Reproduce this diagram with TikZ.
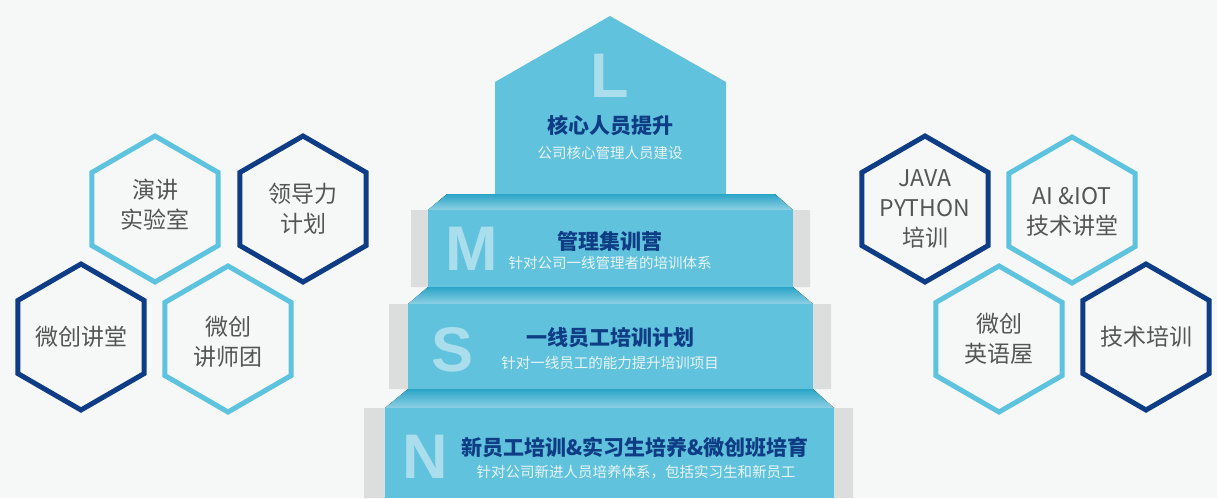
\documentclass[tikz,border=0pt]{standalone}
\usepackage{fontspec}
\setmainfont{Noto Sans CJK SC}
\newfontfamily\letterfont{Liberation Sans}
\usetikzlibrary{shapes.geometric}
\definecolor{bgcol}{HTML}{F6F8F8}
\definecolor{stepblue}{HTML}{60C2DC}
\definecolor{bevtop}{HTML}{2AA5C8}
\definecolor{bevbot}{HTML}{8ED0E3}
\definecolor{tabgray}{HTML}{DCDDDD}
\definecolor{navy}{HTML}{0F3D85}
\definecolor{lightcyan}{HTML}{5EC3DE}
\definecolor{lettercol}{HTML}{ABDEEC}
\definecolor{subcol}{HTML}{E8F5F9}
\definecolor{hextxt}{HTML}{555555}
\begin{document}
\begin{tikzpicture}[x=1pt,y=-1pt,
		hexagon/.style={regular polygon,regular polygon sides=6,shape border rotate=90,
			line width=5pt,minimum size=146pt,inner sep=0pt},
		hexdark/.style={hexagon,draw=navy},
		hexlight/.style={hexagon,draw=lightcyan},
		hextext/.style={align=center,text=hextxt,font=\fontsize{23}{30}\selectfont},
		bevel/.style={top color=bevtop,bottom color=bevbot},
		steptitle/.style={text=navy,font=\fontsize{21}{24}\selectfont\bfseries},
		stepsub/.style={text=subcol,font=\fontsize{14.5}{17}\selectfont},
		stepletter/.style={text=lettercol,font=\fontsize{63}{63}\selectfont\letterfont\bfseries}
		]
		
		\useasboundingbox (0,0) rectangle (1217,498);
		\fill[bgcol] (0,0) rectangle (1217,498);
		
		% steps
		\fill[stepblue] (495,194) -- (495,82) -- (610,16) -- (726,82) -- (726,194) -- cycle;
		\fill[tabgray] (411,210) rectangle (428,287) (793,210) rectangle (810,287);
		\fill[bevel] (447,194) -- (775,194) -- (793,210) -- (428,210) -- cycle;
		\fill[stepblue] (428,210) rectangle (793,287);
		\fill[tabgray] (389,304) rectangle (408,389) (813,304) rectangle (831,389);
		\fill[bevel] (428,287) -- (793,287) -- (813,304) -- (408,304) -- cycle;
		\fill[stepblue] (408,304) rectangle (813,389);
		\fill[tabgray] (364,408) rectangle (385,498) (834,408) rectangle (853,498);
		\fill[bevel] (408,389) -- (813,389) -- (834,408) -- (385,408) -- cycle;
		\fill[stepblue] (385,408) rectangle (834,498);
		
		\node[stepletter] (LL) at (610,76) {L};
		\node[steptitle] (LT) at (610,126) {核心人员提升};
		\node[stepsub] (LS) at (610,153) {公司核心管理人员建设};
		\node[stepletter] (ML) at (472,249) {M};
		\node[steptitle] (MT) at (610,241) {管理集训营};
		\node[stepsub] (MS) at (610,263) {针对公司一线管理者的培训体系};
		\node[stepletter] (SL) at (453,350) {S};
		\node[steptitle] (ST) at (610,338) {一线员工培训计划};
		\node[stepsub] (SS) at (610,363) {针对一线员工的能力提升培训项目};
		\node[stepletter] (NL) at (425,457) {N};
		\node[steptitle] (NT) at (635,447) {新员工培训\&实习生培养\&微创班培育};
		\node[stepsub] (NS) at (636,472) {针对公司新进人员培养体系，包括实习生和新员工};
		
		% left hexagons
		\node[hexlight] (H1) at (155,209) {};
		\node[hextext] at ([yshift=4pt]H1) {演讲\\实验室};
		\node[hexdark] (H2) at (303,209) {};
		\node[hextext] at (H2) {领导力\\计划};
		\node[hexdark] (H3) at (81,337) {};
		\node[hextext] at (H3) {微创讲堂};
		\node[hexlight] (H4) at (228,339) {};
		\node[hextext] at ([yshift=-3pt]H4) {微创\\讲师团};
		
		% right hexagons
		\node[hexdark] (H5) at (925,209) {};
		\node[hextext] at (H5) {JAVA\\PYTHON\\培训};
		\node[hexlight] (H6) at (1072,210) {};
		\node[hextext] at ([yshift=-2pt]H6) {AI \&IOT\\技术讲堂};
		\node[hexlight] (H7) at (999,339) {};
		\node[hextext] at (H7) {微创\\英语屋};
		\node[hexdark] (H8) at (1146,337) {};
		\node[hextext] at (H8) {技术培训};
\end{tikzpicture}
\end{document}
